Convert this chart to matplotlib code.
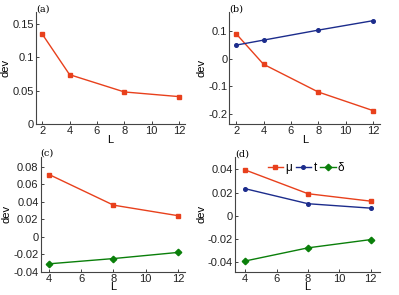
import matplotlib
matplotlib.use("Agg")
import matplotlib.pyplot as plt

# panel (a)
L_a = [2, 4, 8, 12]
mu_a = [0.135, 0.074, 0.048, 0.041]

# panel (b)
L_b = [2, 4, 8, 12]
mu_b = [0.090, -0.020, -0.120, -0.187]
t_b = [0.049, 0.067, 0.103, 0.137]

# panel (c)
L_c = [4, 8, 12]
mu_c = [0.071, 0.036, 0.024]
delta_c = [-0.031, -0.025, -0.018]

# panel (d)
L_d = [4, 8, 12]
mu_d = [0.0394, 0.019, 0.0126]
t_d = [0.0233, 0.0104, 0.0066]
delta_d = [-0.0388, -0.0275, -0.0204]

RED = "#e8401c"
BLUE = "#1c2c8c"
GREEN = "#0a7f0a"

plt.rcParams["font.family"] = ["Liberation Sans", "DejaVu Sans"]

fig = plt.figure(figsize=(3.99, 2.95), dpi=100)


def style(ax, label, xlim, xticks, ylim, yticks, ylabels):
    ax.set_xlim(*xlim)
    ax.set_ylim(*ylim)
    ax.set_xticks(xticks)
    ax.set_xticklabels([str(v) for v in xticks])
    ax.set_yticks(yticks)
    ax.set_yticklabels(ylabels)
    for s in ("top", "right"):
        ax.spines[s].set_visible(False)
    for s in ("left", "bottom"):
        ax.spines[s].set_color("#444444")
        ax.spines[s].set_linewidth(0.8)
    ax.tick_params(direction="in", length=2, width=0.6, labelsize=8, pad=1.5,
                   colors="#222222")
    ax.set_xlabel("L", fontsize=8, labelpad=-1)
    ax.set_ylabel("dev", fontsize=8, labelpad=1)
    ax.text(0.0, 0.99, label, transform=ax.transAxes, fontsize=7,
            family="DejaVu Serif", va="bottom", ha="left")


def red(ax, x, y):
    return ax.plot(x, y, color=RED, marker="s", ms=3.3, lw=1.0, label="μ")[0]


def blue(ax, x, y):
    return ax.plot(x, y, color=BLUE, marker="o", ms=2.6, lw=1.0, label="t")[0]


def green(ax, x, y):
    return ax.plot(x, y, color=GREEN, marker="D", ms=3.3, mew=1.0, lw=1.0,
                   label="δ")[0]


ax_a = fig.add_axes([0.090, 0.580, 0.374, 0.379])
red(ax_a, L_a, mu_a)
style(ax_a, "(a)", (1.54, 12.44), [2, 4, 6, 8, 10, 12], (0, 0.168),
      [0, 0.05, 0.1, 0.15], ["0", "0.05", "0.1", "0.15"])

ax_b = fig.add_axes([0.575, 0.580, 0.378, 0.379])
red(ax_b, L_b, mu_b)
blue(ax_b, L_b, t_b)
style(ax_b, "(b)", (1.51, 12.53), [2, 4, 6, 8, 10, 12], (-0.235, 0.168),
      [-0.2, -0.1, 0, 0.1], ["-0.2", "-0.1", "0", "0.1"])

ax_c = fig.add_axes([0.102, 0.079, 0.362, 0.390])
red(ax_c, L_c, mu_c)
green(ax_c, L_c, delta_c)
style(ax_c, "(c)", (3.48, 12.45), [4, 6, 8, 10, 12], (-0.04, 0.0914),
      [-0.04, -0.02, 0, 0.02, 0.04, 0.06, 0.08],
      ["-0.04", "-0.02", "0", "0.02", "0.04", "0.06", "0.08"])

ax_d = fig.add_axes([0.589, 0.079, 0.364, 0.389])
h1 = red(ax_d, L_d, mu_d)
h2 = blue(ax_d, L_d, t_d)
h3 = green(ax_d, L_d, delta_d)
style(ax_d, "(d)", (3.35, 12.6), [4, 6, 8, 10, 12], (-0.048, 0.0506),
      [-0.04, -0.02, 0, 0.02, 0.04],
      ["-0.04", "-0.02", "0", "0.02", "0.04"])
ax_d.legend(handles=[h1, h2, h3], loc="center", bbox_to_anchor=(0.49, 0.905),
            ncol=3, frameon=False, fontsize=8.5, handlelength=1.3,
            handletextpad=0.2, columnspacing=0.3, borderpad=0.0)

fig.savefig("out.png", dpi=100)
